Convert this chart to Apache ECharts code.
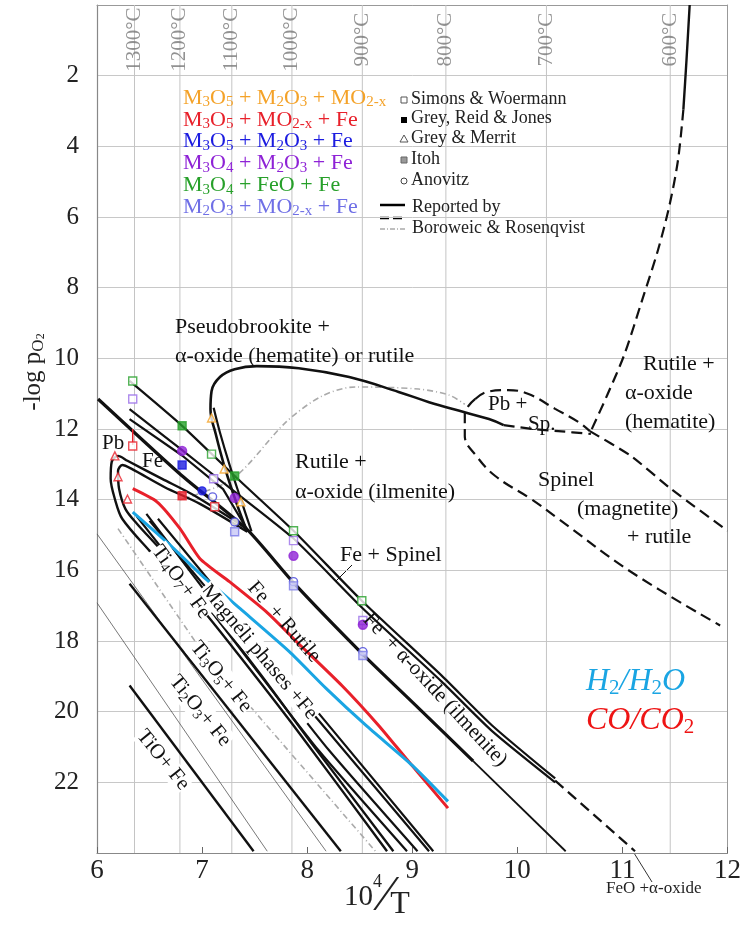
<!DOCTYPE html>
<html>
<head>
<meta charset="utf-8">
<script src="https://cdn.jsdelivr.net/npm/echarts@6/dist/echarts.min.js"></script>
<style>
  html, body { margin: 0; padding: 0; background: #fff; }
  #chart { width: 744px; height: 929px; }
</style>
</head>
<body>
<div id="chart"></div>
<script>
// x = 10^4/T (K), y = -log pO2 (axis inverted)
var tempLabels = ['1300°C', '1200°C', '1100°C', '1000°C', '900°C', '800°C', '700°C', '600°C'];
var tempX = [6.357, 6.789, 7.283, 7.855, 8.525, 9.320, 10.277, 11.455];
var yTicks = [2, 4, 6, 8, 10, 12, 14, 16, 18, 20, 22];

// boundaries
var loopTop = [[7.43,14.91],[7.33,14.12],[7.22,13.13],[7.13,12.14],[7.08,11.44],[7.09,10.93],[7.17,10.53],[7.31,10.31],[7.52,10.22],[7.92,10.28],[8.40,10.53],[8.87,10.95],[9.16,11.24],[9.49,11.52],[9.73,11.72],[9.87,11.89]];
var loopTopArm = [[7.47,14.9],[7.37,14.0],[7.26,13.0],[7.17,12.1],[7.11,11.4]];
var loopTopDash = [[9.87,11.89],[10.15,12.0],[10.39,12.06],[10.70,12.14]];
var hemSolid = [[11.64,0],[11.61,1.55],[11.58,2.96]];
var hemDash = [[11.58,2.96],[11.53,4.37],[11.45,5.64],[11.34,6.92],[11.19,8.33],[11.02,9.88],[10.86,11.01],[10.70,12.06]];
var pbSpTop = [[9.6,11.15],[9.70,10.96],[9.91,10.9],[10.1,11.0],[10.36,11.43],[10.58,11.8],[10.69,12.06]];
var spUpper = [[10.69,12.06],[11.08,12.76],[11.46,13.69],[12.0,14.88]];
var spLower = [[9.6,11.15],[9.5,11.58],[9.5,12.2],[9.61,12.76],[9.79,13.33],[10.13,13.98],[10.39,14.54],[11.08,16.04],[11.93,17.56]];
var lineA1 = [[6.31,10.64],[6.81,11.91],[7.31,13.33],[7.87,14.88],[8.52,16.86],[9.28,18.98],[9.76,20.39],[10.36,21.89]];
var lineA1b = [[6.31,11.44],[6.81,12.6],[7.3,13.75],[7.87,15.1],[8.52,17.05],[9.28,19.15],[9.76,20.55],[10.36,22.0]];
var lineA1Dash = [[10.36,21.95],[11.12,23.95]];
var lineD = [[6.31,11.72],[6.81,12.75],[7.2,13.7],[7.43,14.85]];
var lineB = [[6.01,11.15],[6.8,13.3],[7.43,14.85],[7.87,16.35],[8.52,18.35],[9.06,19.9],[9.58,21.4]];
var lineBTail = [[9.58,21.4],[10.46,23.95]];
var loopOuter = [[7.43,14.83],[6.93,13.89],[6.62,13.41],[6.29,12.9],[6.2,12.76],[6.14,12.93],[6.13,13.41],[6.17,13.98],[6.24,14.54],[6.5,15.45],[6.98,17.03],[7.45,18.78],[7.92,20.59],[8.76,23.95]];
var loopInner = [[7.43,14.91],[6.98,14.12],[6.64,13.64],[6.33,13.13],[6.24,13.02],[6.2,13.19],[6.21,13.69],[6.27,14.26],[6.38,14.68],[6.64,15.53],[7.07,17.08],[7.55,18.92],[8.02,20.81],[8.82,23.95]];
var magA = [[6.5,14.6],[8.11,20.25],[9.16,23.95]];
var magB = [[6.58,14.54],[8.15,20.19],[9.2,23.95]];
var magC = [[6.38,14.48],[6.98,16.75],[7.55,18.95],[8.11,21.1],[8.95,23.95]];
var magD = [[6.47,14.4],[7.07,16.75],[7.64,18.95],[8.21,21.1],[9.05,23.95]];
var ti3o5 = [[6.31,16.38],[8.32,23.95]];
var tiO = [[6.31,19.26],[7.49,23.95]];
var thin1 = [[6,14.97],[8.18,23.95]];
var thin2 = [[6,16.92],[7.62,23.95]];
var borUpper = [[6.79,14.0],[7.29,13.41],[7.8,11.8],[8.14,11.07],[8.46,10.81],[9.06,10.87],[9.35,11.04],[9.5,11.3]];
var borLower = [[6.2,14.82],[6.98,18.21],[8.65,23.95]];
var coCO2 = [[6.34,13.69],[6.57,14.06],[6.79,14.82],[6.98,15.67],[7.26,16.32],[7.61,17.17],[7.90,18.02],[8.33,19.26],[8.68,20.39],[8.94,21.32],[9.34,22.73]];
var h2H2O = [[6.34,14.35],[6.66,15.19],[7.0,16.15],[7.36,17.08],[7.83,18.3],[8.18,19.34],[8.56,20.39],[9.0,21.52],[9.34,22.54]];
var redTick = [[6.34,12.0],[6.34,12.45]];

// experimental points
var greenOpenSq = [[6.34,10.64],[7.09,12.71],[7.87,14.88],[8.52,16.86]];
var greenFilledSq = [[6.81,11.91],[7.31,13.33]];
var purpleOpenSq = [[6.34,11.15],[7.11,13.41],[7.87,15.16],[8.53,17.42]];
var purpleCircle = [[6.81,12.62],[7.31,13.95],[7.87,15.59],[8.53,17.54]];
var blueFilledSq = [[6.81,13.02]];
var blueFilledCircle = [[7.0,13.75]];
var blueOpenCircle = [[7.1,13.92],[7.31,14.63],[7.87,16.32],[8.53,18.3]];
var paleSq = [[7.31,14.91],[7.87,16.44],[8.53,18.41]];
var redOpenSq = [[6.34,12.48],[7.12,14.2]];
var redFilledSq = [[6.81,13.89]];
var redTriangle = [[6.17,12.76],[6.2,13.35],[6.29,13.98]];
var orangeTriangle = [[7.09,11.69],[7.21,13.13],[7.37,14.06]];
var blackFilledSq = [[6.81,16.46]];

var SERIF = '"Liberation Serif", "DejaVu Serif", serif';
var C = { orange: '#f4a228', red: '#e8202a', blue: '#1c1ce0', purple: '#8e22d6', green: '#27a02a', pale: '#6f6fe6', h2: '#1aa5e3' };

function ln(data, color, width, type, smooth, z) {
    return {
        type: 'line', data: data, symbol: 'none', silent: true, smooth: smooth || false,
        lineStyle: { color: color, width: width, type: type || 'solid' }, z: z || 3
    };
}
function pts(data, symbol, fill, border, size) {
    return {
        type: 'scatter', data: data, symbol: symbol, symbolSize: size || 8, silent: true, z: 5,
        itemStyle: { color: fill, borderColor: border, borderWidth: 1.4 }
    };
}

var K = '#111';
var DASH = [11, 6];
var series = [];
tempX.forEach(function (x) {
    series.push(ln([[x, 0], [x, 24]], '#c4c4c4', 1, 'solid', false, 1));
});
series.push({
    type: 'scatter', data: tempX.map(function (x) { return [x, 0.98]; }), symbolSize: 0, silent: true, z: 2,
    label: { show: true, position: 'inside', rotate: 90, fontSize: 21, fontFamily: SERIF, color: '#777',
        formatter: function (p) { return tempLabels[p.dataIndex]; } }
});
series.push(
    ln(thin1, '#555', 0.8), ln(thin2, '#555', 0.8),
    ln(borLower, '#aaa', 1.6, [6, 3, 1, 3]), ln(borUpper, '#aaa', 1.6, [6, 3, 1, 3], 0.3),
    ln(tiO, K, 2.4), ln(ti3o5, K, 2.4),
    ln(loopOuter, K, 2.4, 'solid', 0.3), ln(loopInner, K, 2.4, 'solid', 0.3),
    ln(magA, K, 2.2), ln(magB, K, 2.2), ln(magC, K, 2.2, 'solid', 0.2), ln(magD, K, 2.2, 'solid', 0.2),
    ln(lineB, K, 3.2, 'solid', 0.2), ln(lineBTail, K, 1.8),
    ln(lineD, K, 2.2), ln(lineA1, K, 2.2, 'solid', 0.2), ln(lineA1b, K, 2.2, 'solid', 0.2), ln(lineA1Dash, K, 2.2, DASH),
    ln(loopTop, K, 2.6, 'solid', 0.4), ln(loopTopArm, K, 2.2, 'solid', 0.3), ln(loopTopDash, K, 2.2, DASH, 0.3),
    ln(hemSolid, K, 2.4, 'solid', 0.3), ln(hemDash, K, 2.2, DASH, 0.3),
    ln(pbSpTop, K, 2.2, DASH, 0.4), ln(spUpper, K, 2.2, DASH, 0.2), ln(spLower, K, 2.2, DASH, 0.4),
    ln(coCO2, C.red, 3, 'solid', 0.2, 4), ln(h2H2O, C.h2, 3, 'solid', 0.2, 4), ln(redTick, C.red, 1.5),
    pts(greenOpenSq, 'rect', '#fff', C.green), pts(greenFilledSq, 'rect', C.green, C.green),
    pts(purpleOpenSq, 'rect', '#fff', '#9a6ee8'), pts(purpleCircle, 'circle', C.purple, C.purple, 9),
    pts(blueFilledSq, 'rect', C.blue, C.blue), pts(blueFilledCircle, 'circle', C.blue, C.blue),
    pts(blueOpenCircle, 'circle', '#fff', '#4040d8'), pts(paleSq, 'rect', '#c8c8f6', '#7b7be8'),
    pts(redOpenSq, 'rect', '#fff', C.red), pts(redFilledSq, 'rect', C.red, C.red),
    pts(redTriangle, 'triangle', '#fff', C.red), pts(orangeTriangle, 'triangle', '#fff', C.orange),
    pts(blackFilledSq, 'rect', '#000', '#000', 9)
);

function T(x, y, text, size, color, extra) {
    var el = { type: 'text', x: x, y: y, z: 100, silent: true,
        style: { text: text, fontSize: size, fontFamily: SERIF, fill: color || '#111',
            align: 'left', textAlign: 'left', verticalAlign: 'middle', textVerticalAlign: 'middle' } };
    if (extra) {
        for (var k in extra) {
            if (k === 'style') { for (var s in extra.style) el.style[s] = extra.style[s]; }
            else el[k] = extra[k];
        }
    }
    return el;
}
function subRich(color, size) {
    return { s: { fontSize: size || 14, lineHeight: 14, fontFamily: SERIF, fill: color, verticalAlign: 'bottom' } };
}
function rot(deg) { return -deg * Math.PI / 180; }

var legendRows = [
    ['M{s|3}O{s|5} + M{s|2}O{s|3} + MO{s|2-x}', C.orange],
    ['M{s|3}O{s|5} + MO{s|2-x} + Fe', C.red],
    ['M{s|3}O{s|5} + M{s|2}O{s|3} + Fe', C.blue],
    ['M{s|3}O{s|4} + M{s|2}O{s|3} + Fe', C.purple],
    ['M{s|3}O{s|4} + FeO + Fe', C.green],
    ['M{s|2}O{s|3} + MO{s|2-x} + Fe', C.pale]
];
var sourceRows = ['Simons & Woermann', 'Grey, Reid & Jones', 'Grey & Merrit', 'Itoh', 'Anovitz'];
var sourceY = [99, 118, 138, 159, 180];

var graphic = [];
legendRows.forEach(function (r, i) {
    graphic.push(T(183, 98 + i * 21.8, r[0], 22, r[1], { style: { lineHeight: 24, rich: subRich(r[1], 15) } }));
});
sourceRows.forEach(function (s, i) {
    graphic.push(T(411, sourceY[i], s, 18, '#222'));
});
graphic.push(
    { type: 'rect', shape: { x: 401, y: 97, width: 6, height: 6 }, style: { fill: '#fff', stroke: '#555', lineWidth: 1 } },
    { type: 'rect', shape: { x: 401, y: 117, width: 6, height: 6 }, style: { fill: '#000' } },
    { type: 'polygon', shape: { points: [[404, 135], [400, 142], [408, 142]] }, style: { fill: '#fff', stroke: '#555', lineWidth: 1 } },
    { type: 'rect', shape: { x: 401, y: 157, width: 6, height: 6 }, style: { fill: '#999', stroke: '#666', lineWidth: 1 } },
    { type: 'circle', shape: { cx: 404, cy: 181, r: 3 }, style: { fill: '#fff', stroke: '#444', lineWidth: 1 } },
    { type: 'line', shape: { x1: 380, y1: 205, x2: 405, y2: 205 }, style: { stroke: '#000', lineWidth: 2.5 } },
    { type: 'line', shape: { x1: 380, y1: 218, x2: 405, y2: 218 }, style: { stroke: '#000', lineWidth: 2.5, lineDash: [9, 4] } },
    { type: 'line', shape: { x1: 380, y1: 229, x2: 405, y2: 229 }, style: { stroke: '#aaa', lineWidth: 1.5, lineDash: [5, 2, 1, 2] } },
    T(412, 207, 'Reported by', 18, '#222'),
    T(412, 228, 'Boroweic & Rosenqvist', 18, '#222'),
    // region labels
    T(175, 327, 'Pseudobrookite +', 22),
    T(175, 356, 'α-oxide (hematite) or rutile', 22),
    T(295, 462, 'Rutile +', 22),
    T(295, 492, 'α-oxide (ilmenite)', 22),
    T(340, 555, 'Fe + Spinel', 22),
    T(643, 364, 'Rutile +', 22),
    T(625, 393, 'α-oxide', 22),
    T(625, 422, '(hematite)', 22),
    T(488, 404, 'Pb +', 21),
    T(528, 424, 'Sp.', 21),
    T(538, 480, 'Spinel', 22),
    T(577, 509, '(magnetite)', 22),
    T(627, 537, '+ rutile', 22),
    T(102, 443, 'Pb', 21),
    T(142, 461, 'Fe', 21),
    T(284, 622, 'Fe  + Rutile', 21, '#111', { rotation: rot(49), style: { align: 'center', textAlign: 'center' } }),
    T(435, 690, 'Fe  + α-oxide (ilmenite)', 21, '#111', { rotation: rot(47), style: { align: 'center', textAlign: 'center' } }),
    T(259, 652, 'Magnéli phases +Fe', 21, '#111', { rotation: rot(50), style: { align: 'center', textAlign: 'center', backgroundColor: '#fff', padding: [0, 1] } }),
    T(181, 582, 'Ti{s|4}O{s|7}+ Fe', 21, '#111', { rotation: rot(54), style: { align: 'center', textAlign: 'center', lineHeight: 24, rich: subRich('#111'), backgroundColor: '#fff' } }),
    T(221, 677, 'Ti{s|3}O{s|5}+ Fe', 21, '#111', { rotation: rot(51), style: { align: 'center', textAlign: 'center', lineHeight: 24, rich: subRich('#111'), backgroundColor: '#fff' } }),
    T(200, 711, 'Ti{s|2}O{s|3}+ Fe', 21, '#111', { rotation: rot(51), style: { align: 'center', textAlign: 'center', lineHeight: 24, rich: subRich('#111'), backgroundColor: '#fff' } }),
    T(163, 760, 'TiO+ Fe', 21, '#111', { rotation: rot(51), style: { align: 'center', textAlign: 'center', backgroundColor: '#fff' } }),
    { type: 'line', shape: { x1: 335, y1: 582, x2: 352, y2: 565 }, style: { stroke: '#111', lineWidth: 1 } },
    T(586, 682, 'H{s|2}/H{s|2}O', 32, C.h2, { style: { fontStyle: 'italic', lineHeight: 34, rich: { s: { fontSize: 21, lineHeight: 21, fontFamily: SERIF, fill: C.h2, verticalAlign: 'bottom' } } } }),
    T(586, 721, 'CO/CO{s|2}', 32, '#ee1414', { style: { fontStyle: 'italic', lineHeight: 34, rich: { s: { fontSize: 21, lineHeight: 21, fontFamily: SERIF, fill: '#ee1414', verticalAlign: 'bottom' } } } }),
    { type: 'line', shape: { x1: 634, y1: 853, x2: 652, y2: 882 }, style: { stroke: '#333', lineWidth: 1 } },
    T(606, 889, 'FeO +α-oxide', 17, '#222'),
    // axis titles
    T(33, 372, '-log p{o|O}{t|2}', 25, '#222', { rotation: Math.PI / 2, style: { align: 'center', textAlign: 'center', lineHeight: 28,
        rich: { o: { fontSize: 17, lineHeight: 18, fontFamily: SERIF, fill: '#222', verticalAlign: 'bottom' },
                t: { fontSize: 12, lineHeight: 10, fontFamily: SERIF, fill: '#222', verticalAlign: 'bottom' } } } }),
    T(344, 897, '10{u|4}{sl|⁄}{d|T}', 29, '#222', { style: { lineHeight: 48,
        rich: { u: { fontSize: 18, lineHeight: 32, fontFamily: SERIF, fill: '#222', verticalAlign: 'top' },
                sl: { fontSize: 50, lineHeight: 48, fontFamily: SERIF, fill: '#222' },
                d: { fontSize: 32, lineHeight: 32, fontFamily: SERIF, fill: '#222', verticalAlign: 'bottom' } } } })
);

var chart = echarts.init(document.getElementById('chart'));
chart.setOption({
    animation: false,
    backgroundColor: '#fff',
    grid: { left: 97, right: 13, top: 5, bottom: 76 },
    xAxis: [{
        type: 'value', min: 6, max: 12, interval: 1, position: 'bottom',
        axisLine: { onZero: false, lineStyle: { color: '#888', width: 1.2 } },
        axisTick: { show: true, inside: true, length: 6, lineStyle: { color: '#666' } },
        axisLabel: { fontSize: 27, fontFamily: SERIF, color: '#222', margin: 4 },
        splitLine: { show: false }
    }, {
        type: 'value', min: 6, max: 12, position: 'top',
        axisLine: { show: true, onZero: false, lineStyle: { color: '#999' } },
        axisTick: { show: false }, axisLabel: { show: false }, splitLine: { show: false }
    }],
    yAxis: [{
        type: 'value', inverse: true, min: 0, max: 24, interval: 2,
        axisLine: { show: true, onZero: false, lineStyle: { color: '#888', width: 1.2 } },
        axisTick: { show: false },
        axisLabel: { fontSize: 25, fontFamily: SERIF, color: '#222', margin: 18,
            formatter: function (v) { return yTicks.indexOf(v) >= 0 ? String(v) : ''; } },
        splitLine: { show: true, lineStyle: { color: '#c8c8c8', width: 1 } }
    }, {
        type: 'value', inverse: true, min: 0, max: 24, position: 'right',
        axisLine: { show: true, onZero: false, lineStyle: { color: '#999' } },
        axisTick: { show: false }, axisLabel: { show: false }, splitLine: { show: false }
    }],
    series: series,
    graphic: graphic
});
</script>
</body>
</html>
